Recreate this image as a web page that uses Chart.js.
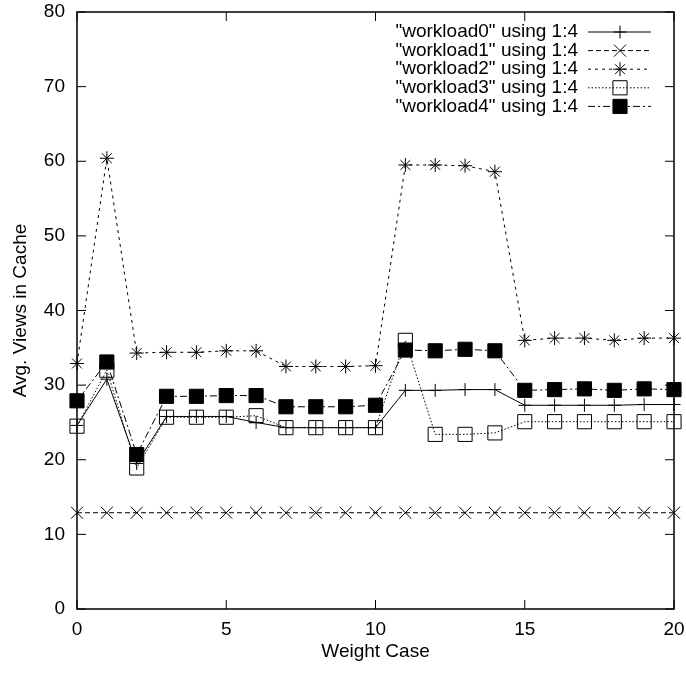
<!DOCTYPE html>
<html>
<head>
<meta charset="utf-8">
<title>Avg. Views in Cache</title>
<script src="https://cdn.jsdelivr.net/npm/chart.js@4.4.1/dist/chart.umd.min.js"></script>
<style>
  html, body { margin: 0; padding: 0; background: #fff; }
  #wrap { width: 686px; height: 673px; }
</style>
</head>
<body>
<div id="wrap"><canvas id="chartViews" width="686" height="673"></canvas></div>
<script>
// ---------- datos ----------
const weightCases = [0, 1, 2, 3, 4, 5, 6, 7, 8, 9, 10, 11, 12, 13, 14, 15, 16, 17, 18, 19, 20];
const xTicks = [0, 5, 10, 15, 20];
const yTicks = [0, 10, 20, 30, 40, 50, 60, 70, 80];

const seriesNames = [
    '"workload0" using 1:4',
    '"workload1" using 1:4',
    '"workload2" using 1:4',
    '"workload3" using 1:4',
    '"workload4" using 1:4'
];
const workload0 = [24.6, 30.8, 19.5, 25.8, 25.8, 25.8, 25.0, 24.3, 24.3, 24.3, 24.3, 29.3, 29.3, 29.4, 29.4, 27.3, 27.3, 27.3, 27.3, 27.4, 27.4];
const workload1 = [12.9, 12.9, 12.9, 12.9, 12.9, 12.9, 12.9, 12.9, 12.9, 12.9, 12.9, 12.9, 12.9, 12.9, 12.9, 12.9, 12.9, 12.9, 12.9, 12.9, 12.9];
const workload2 = [32.9, 60.4, 34.3, 34.4, 34.4, 34.6, 34.6, 32.5, 32.5, 32.5, 32.6, 59.5, 59.5, 59.4, 58.6, 36.0, 36.3, 36.3, 36.0, 36.3, 36.3];
const workload3 = [24.5, 32.0, 18.9, 25.7, 25.7, 25.7, 25.9, 24.3, 24.3, 24.3, 24.3, 36.0, 23.4, 23.4, 23.6, 25.1, 25.1, 25.1, 25.1, 25.1, 25.1];
const workload4 = [27.9, 33.1, 20.7, 28.5, 28.5, 28.6, 28.6, 27.1, 27.1, 27.1, 27.3, 34.7, 34.6, 34.8, 34.6, 29.3, 29.4, 29.5, 29.3, 29.5, 29.4];

(function () {
    const FONT = '"Liberation Sans", Arial, Helvetica, sans-serif';
    Chart.defaults.font.family = FONT;
    Chart.defaults.font.size = 19;
    Chart.defaults.color = '#000';

    const pts = (arr) => weightCases.map((x, i) => ({ x, y: arr[i] }));

    // estilo gnuplot: linea, marcador
    const styles = [
        { dash: [], point: 'cross', r: 6.5, fill: 'rgba(0,0,0,0)' },
        { dash: [5, 3], point: 'crossRot', r: 8.5, fill: 'rgba(0,0,0,0)' },
        { dash: [3, 4], point: 'star', r: 7, fill: 'rgba(0,0,0,0)' },
        { dash: [1.5, 2], point: 'rect', r: 10, fill: 'rgba(0,0,0,0)' },
        { dash: [7, 3, 2, 3], point: 'rect', r: 10, fill: '#000' }
    ];
    const values = [workload0, workload1, workload2, workload3, workload4];

    const datasets = values.map((v, i) => ({
        label: seriesNames[i],
        data: pts(v),
        borderColor: '#000',
        borderWidth: 1,
        borderDash: styles[i].dash,
        pointStyle: styles[i].point,
        pointRadius: styles[i].r,
        pointHoverRadius: styles[i].r,
        pointBorderColor: '#000',
        pointBorderWidth: 1,
        pointBackgroundColor: styles[i].fill,
        tension: 0,
        fill: false,
        clip: false
    }));

    // sin padding extra de las escalas: el area la fija layout.padding
    function noPad(s) { s.paddingLeft = 0; s.paddingRight = 0; s.paddingTop = 0; s.paddingBottom = 0; }

    // marco + ticks hacia adentro (con espejo arriba/derecha)
    const framePlugin = {
        id: 'gnuFrame',
        beforeDatasetsDraw(chart) {
            const { ctx, chartArea: a, scales: { x, y } } = chart;
            ctx.save();
            ctx.strokeStyle = '#000';
            ctx.lineWidth = 1.5;
            ctx.strokeRect(a.left, a.top, a.right - a.left, a.bottom - a.top);
            ctx.lineWidth = 1;
            ctx.beginPath();
            x.ticks.forEach(t => {
                const px = x.getPixelForValue(t.value);
                ctx.moveTo(px, a.bottom); ctx.lineTo(px, a.bottom - 9);
                ctx.moveTo(px, a.top); ctx.lineTo(px, a.top + 9);
            });
            y.ticks.forEach(t => {
                const py = y.getPixelForValue(t.value);
                ctx.moveTo(a.left, py); ctx.lineTo(a.left + 9, py);
                ctx.moveTo(a.right, py); ctx.lineTo(a.right - 9, py);
            });
            ctx.stroke();
            ctx.restore();
        }
    };

    // leyenda: texto a la derecha, muestra de linea + marcador
    const keyPlugin = {
        id: 'gnuKey',
        afterDatasetsDraw(chart) {
            const { ctx, chartArea: a } = chart;
            const textRight = a.right - 96;
            const lineFrom = a.right - 86, lineTo = a.right - 23, mark = a.right - 54;
            ctx.save();
            ctx.font = '19px ' + FONT;
            ctx.textAlign = 'right';
            ctx.textBaseline = 'middle';
            chart.data.datasets.forEach((ds, i) => {
                const yy = a.top + 20 + i * 18.6;
                ctx.fillStyle = '#000';
                ctx.fillText(ds.label, textRight, yy);
                ctx.strokeStyle = '#000';
                ctx.lineWidth = ds.borderWidth;
                ctx.setLineDash(ds.borderDash);
                ctx.beginPath();
                ctx.moveTo(lineFrom, yy); ctx.lineTo(lineTo, yy);
                ctx.stroke();
                ctx.setLineDash([]);
                ctx.fillStyle = ds.pointBackgroundColor;
                ctx.lineWidth = 1;
                Chart.helpers.drawPoint(ctx, {
                    pointStyle: ds.pointStyle, radius: ds.pointRadius, rotation: 0, borderWidth: 1
                }, mark, yy);
            });
            ctx.restore();
        }
    };

    new Chart(document.getElementById('chartViews'), {
        type: 'line',
        data: { datasets },
        options: {
            responsive: false,
            animation: false,
            events: [],
            layout: { padding: { top: 12, right: 12, left: 0, bottom: 0 } },
            plugins: { legend: { display: false }, tooltip: { enabled: false } },
            scales: {
                x: {
                    type: 'linear', min: 0, max: 20,
                    afterBuildTicks: (s) => { s.ticks = xTicks.map(v => ({ value: v })); },
                    afterFit: (s) => { s.height = 64; noPad(s); },
                    grid: { display: false, drawTicks: false },
                    border: { display: false },
                    ticks: { padding: 9, maxRotation: 0 },
                    title: { display: true, text: 'Weight Case', padding: { top: 10, bottom: 10 } }
                },
                y: {
                    min: 0, max: 80,
                    afterBuildTicks: (s) => { s.ticks = yTicks.map(v => ({ value: v })); },
                    afterFit: (s) => { s.width = 77; noPad(s); },
                    grid: { display: false, drawTicks: false },
                    border: { display: false },
                    ticks: { padding: 12 },
                    title: { display: true, text: 'Avg. Views in Cache', padding: { top: 9, bottom: 9 } }
                }
            }
        },
        plugins: [framePlugin, keyPlugin]
    });
})();
</script>
</body>
</html>
